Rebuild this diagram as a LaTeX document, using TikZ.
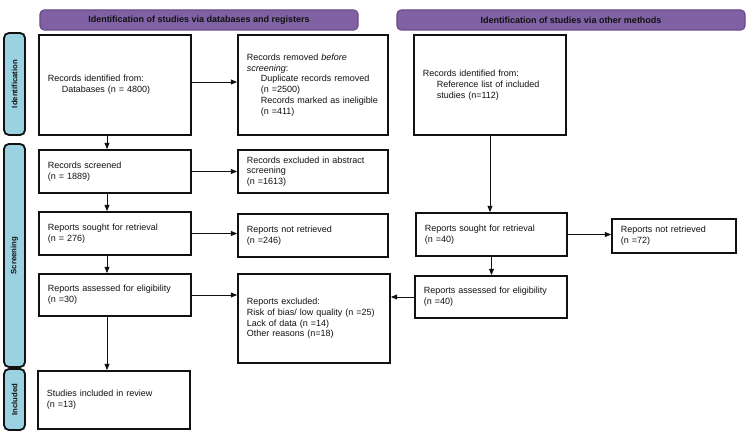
\documentclass[tikz,border=0pt]{standalone}
\usepackage{fontspec}
\setmainfont{Liberation Sans}
\usetikzlibrary{arrows.meta,positioning}
\definecolor{ink}{HTML}{111111}
\definecolor{headfill}{HTML}{8062A4}
\definecolor{headline}{HTML}{664A88}
\definecolor{bandfill}{HTML}{9BD2E2}
\newcommand{\boxfont}{\fontsize{6.4}{7.6}\selectfont}
\newcommand{\bandfont}{\fontsize{5.5}{6.5}\selectfont}
\newcommand{\ind}{\hspace*{.35cm}}
\tikzset{
 every node/.append style={font=\boxfont,text=ink},
 box/.style={draw=ink,fill=white,line width=1.3pt,align=left,inner xsep=.22cm,inner ysep=2pt},
 head/.style={draw=headline,fill=headfill,rounded corners=3pt,line width=.8pt,font=\boxfont\bfseries,minimum height=.5cm},
 band/.style={draw=ink,fill=bandfill,rounded corners=3.5pt,line width=1.3pt,font=\bandfont\bfseries,rotate=90,minimum height=.525cm,inner sep=0pt},
 flow/.style={-{Triangle[length=4.5pt,width=3.6pt]},draw=ink,line width=.55pt},
}

\begin{document}
\begin{tikzpicture}
\useasboundingbox (0,0) rectangle (18.75,-10.975);

\node[head,minimum width=7.95cm] (dbhead) at (4.975,-.5) {Identification of studies via databases and registers};
\node[head,minimum width=8.7cm] (otherhead) at (14.275,-.5) {Identification of studies via other methods};

\node[band,minimum width=2.55cm] (idband) at (.3625,-2.1) {Identification};
\node[band,minimum width=5.575cm] (scrband) at (.3625,-6.3875) {Screening};
\node[band,minimum width=1.525cm] (incband) at (.3625,-9.9875) {Included};

\node[box,text width=3.36cm,minimum height=2.5cm] (dbrec) at (2.875,-2.125) {
  Records identified from:\\
  \ind Databases (n = 4800)
};
\node[box,text width=3.31cm,minimum height=2.5cm] (removed) at (7.825,-2.125) {
  Records removed \textit{before}\\
  \textit{screening}:\\
  \ind Duplicate records removed\\
  \ind (n =2500)\\
  \ind Records marked as ineligible\\
  \ind (n =411)
};
\node[box,text width=3.36cm,minimum height=2.5cm] (otherrec) at (12.25,-2.125) {
  Records identified from:\\
  \ind Reference list of included\\
  \ind studies (n=112)
};

\node[box,text width=3.36cm,minimum height=1.075cm] (screened) at (2.875,-4.2875) {Records screened\\(n = 1889)};
\node[box,text width=3.31cm,minimum height=1.075cm] (excluded) at (7.825,-4.2875) {Records excluded in abstract\\screening\\(n =1613)};

\node[box,text width=3.36cm,minimum height=1.075cm] (sought) at (2.875,-5.8375) {Reports sought for retrieval\\(n = 276)};
\node[box,text width=3.31cm,minimum height=1.075cm] (notret) at (7.825,-5.8875) {Reports not retrieved\\(n =246)};
\node[box,text width=3.335cm,minimum height=1.075cm] (othersought) at (12.2875,-5.8625) {Reports sought for retrieval\\(n =40)};
\node[box,text width=2.66cm,minimum height=.85cm] (othernotret) at (16.85,-5.9) {Reports not retrieved\\(n =72)};

\node[box,text width=3.36cm,minimum height=1.05cm] (assessed) at (2.875,-7.375) {Reports assessed for eligibility\\(n =30)};
\node[box,text width=3.36cm,minimum height=2.225cm] (reasons) at (7.85,-7.9625) {
  Reports excluded:\\
  Risk of bias/ low quality (n =25)\\
  Lack of data (n =14)\\
  Other reasons (n=18)
};
\node[box,text width=3.36cm,minimum height=1.05cm] (otherassessed) at (12.275,-7.425) {Reports assessed for eligibility\\(n =40)};

\node[box,text width=3.36cm,minimum height=1.45cm] (included) at (2.85,-10) {Studies included in review\\(n =13)\\[4pt]};

\draw[flow] ([xshift=-.2cm]dbrec.south) -- ([xshift=-.2cm]dbrec.south |- screened.north);
\draw[flow] ([yshift=.075cm]dbrec.east) -- ([yshift=.075cm]dbrec.east -| removed.west);
\draw[flow] ([xshift=-.2cm]screened.south) -- ([xshift=-.2cm]screened.south |- sought.north);
\draw[flow] (screened.east) -- (screened.east -| excluded.west);
\draw[flow] ([xshift=-.2cm]sought.south) -- ([xshift=-.2cm]sought.south |- assessed.north);
\draw[flow] (sought.east) -- (sought.east -| notret.west);
\draw[flow] ([xshift=-.2cm]assessed.south) -- ([xshift=-.2cm]assessed.south |- included.north);
\draw[flow] (assessed.east) -- (assessed.east -| reasons.west);
\draw[flow] (otherrec.south) -- (otherrec.south |- othersought.north);
\draw[flow] (othersought.east) -- (othersought.east -| othernotret.west);
\draw[flow] (othersought.south) -- (othersought.south |- otherassessed.north);
\draw[flow] (otherassessed.west) -- (otherassessed.west -| reasons.east);
\end{tikzpicture}
\end{document}
